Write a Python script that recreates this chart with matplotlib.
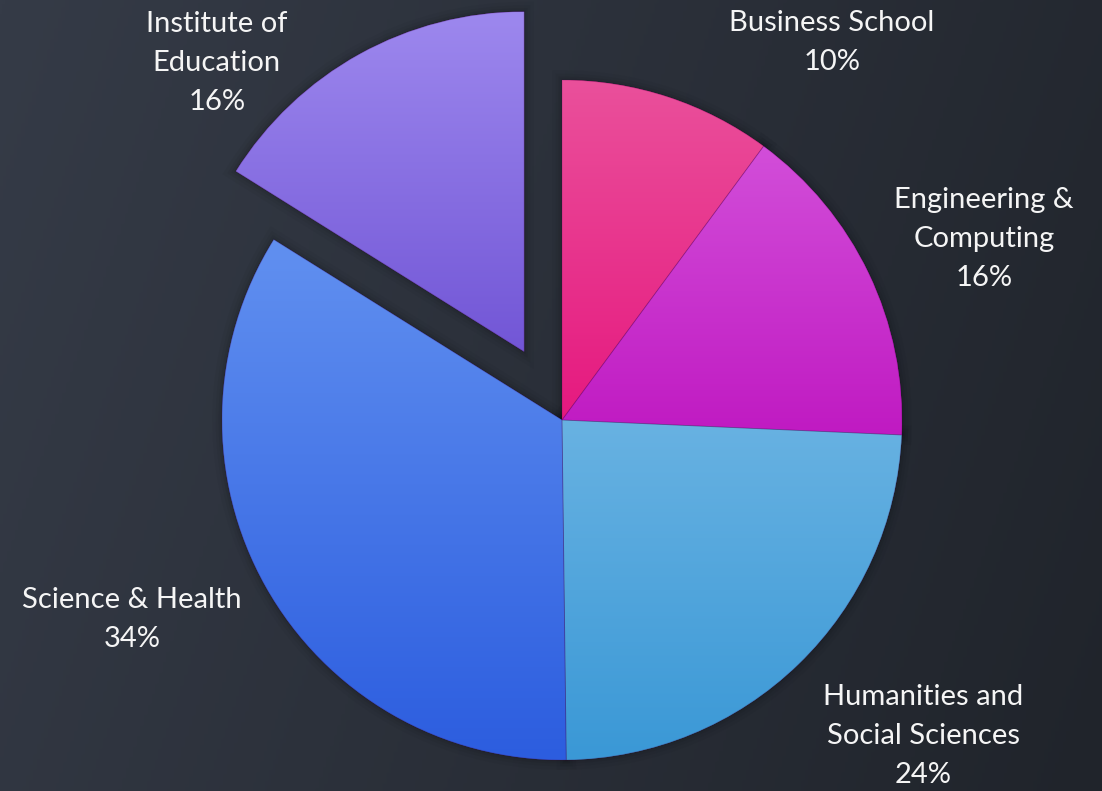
import numpy as np
import matplotlib.pyplot as plt
from matplotlib.colors import LinearSegmentedColormap
from matplotlib.patches import Wedge

# share of students by school (%)
schools = ['Business School', 'Engineering &\nComputing', 'Humanities and\nSocial Sciences',
           'Science & Health', 'Institute of\nEducation']
shares = [10.1, 15.6, 24.1, 34.1, 16.1]
explode = [0, 0, 0, 0, 0.23]

# vertical gradient per slice: (top, bottom)
top_colors = ['#ea509b', '#d24ed9', '#68b2e2', '#6190f0', '#9d88ee']
bottom_colors = ['#e6197f', '#c01ac2', '#3a98d6', '#2c5ddf', '#7256d6']

# label anchors (data units, radius = 1)
label_pos = [(0.794, 1.109), (1.241, 0.532), (1.062, -0.929), (-1.265, -0.588), (-1.015, 1.050)]

plt.rcParams['font.family'] = ['Lato', 'DejaVu Sans']

fig = plt.figure(figsize=(11.02, 7.91), dpi=100)

# background
bg = fig.add_axes([0, 0, 1, 1])
bg.axis('off')
gx, gy = np.meshgrid(np.linspace(0, 1, 300), np.linspace(0, 1, 300))
t = np.clip(0.8 * gx + 0.2 * gy, 0, 1)
bg_cmap = LinearSegmentedColormap.from_list('bg', ['#353b47', '#20242b'])
bg.imshow(t, cmap=bg_cmap, aspect='auto', extent=[0, 1, 0, 1], origin='upper')
bg.set_xlim(0, 1)
bg.set_ylim(0, 1)

ax = fig.add_axes([0, 0, 1, 1])
ax.patch.set_alpha(0)
ax.axis('off')

wedges, _ = ax.pie(shares, explode=explode, startangle=90, counterclock=False,
                   radius=1, wedgeprops=dict(linewidth=0))

for i, w in enumerate(wedges):
    # soft shadow
    for lw, a in [(14, 0.03), (9, 0.04), (5, 0.05), (2, 0.06)]:
        sh = Wedge(w.center, w.r, w.theta1, w.theta2, facecolor='none',
                   edgecolor=(0, 0, 0, a), linewidth=lw, zorder=0.5)
        ax.add_patch(sh)
    w.set_facecolor(bottom_colors[i])
    w.set_zorder(1)
    ext = w.get_path().get_extents()
    cmap = LinearSegmentedColormap.from_list('s%d' % i, [bottom_colors[i], top_colors[i]])
    grad = np.linspace(0, 1, 256).reshape(-1, 1)
    im = ax.imshow(grad, cmap=cmap, aspect='auto', origin='lower',
                   extent=[ext.x0, ext.x1, ext.y0, ext.y1], zorder=1.5)
    im.set_clip_path(w)
    # thin separator
    ax.add_patch(Wedge(w.center, w.r, w.theta1, w.theta2, facecolor='none',
                       edgecolor=(0.3, 0, 0.3, 0.25), linewidth=0.6, zorder=2))

for name, pct, (x, y) in zip(schools, shares, label_pos):
    ax.text(x, y, f'{name}\n{pct:.0f}%', ha='center', va='center', multialignment='center',
            color='#f5f5f5', fontsize=21, linespacing=1.62, zorder=3)

ax.set_xlim(-562 / 340, 540 / 340)
ax.set_ylim(-371 / 340, 420 / 340)

fig.savefig('out.png', dpi=100)
